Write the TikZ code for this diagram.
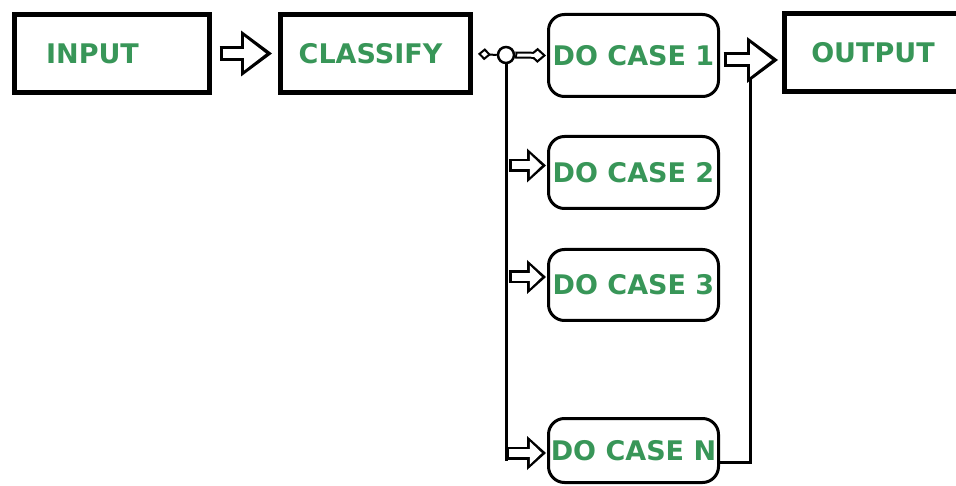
\documentclass[tikz,border=0pt]{standalone}
\usepackage{fontspec}
\newfontfamily\labelfont{DejaVu Sans}
\usepackage{tikz}
\usetikzlibrary{arrows.meta, positioning}
\definecolor{caseGreen}{RGB}{56,150,88}

\tikzset{
  boxtext/.style={font=\labelfont\bfseries\fontsize{27}{30}\selectfont, text=caseGreen},
  stepbox/.style={boxtext, draw=black, line width=5pt, fill=white, inner sep=0pt, minimum height=78pt},
  casebox/.style={boxtext, draw=black, line width=3pt, fill=white, rounded corners=16pt, inner sep=0pt, minimum width=170pt},
  wire/.style={draw=black, line width=3pt},
  % hollow block arrows: black outline, white inside
  bigarrow/.style 2 args={line width=15pt, shorten <=#1, shorten >=#2,
    -{Triangle[length=31pt, width=46pt, line width=0pt]},
    postaction={draw=white, line width=9pt, shorten <=#1+3pt, shorten >=#2+6pt,
      -{Triangle[length=22pt, width=34pt, line width=0pt]}}},
  midarrow/.style 2 args={line width=13pt, shorten <=#1, shorten >=#2,
    -{Triangle[length=19pt, width=34pt, line width=0pt]},
    postaction={draw=white, line width=8pt, shorten <=#1+2.5pt, shorten >=#2+4.2pt,
      -{Triangle[length=12pt, width=23pt, line width=0pt]}}},
  tinyarrow/.style={line width=7pt, shorten >=1pt,
    -{Diamond[length=17pt, width=15pt, line width=0pt]},
    postaction={draw=white, line width=3pt, shorten <=2pt, shorten >=4.3pt,
      -{Diamond[length=10.4pt, width=9pt, line width=0pt]}}},
  tinylink/.style={line width=2pt, shorten <=5pt, {Diamond[open, length=13pt, width=12pt]}-},
}

\begin{document}
\begin{tikzpicture}[x=1pt, y=-1pt]
\useasboundingbox (0,0) rectangle (956,486);
\clip (0,0) rectangle (956,486);

% Kästen oben
\node[stepbox, minimum width=195pt] (input) at (111.5,53.5) {INPUT\hspace*{38pt}};
\node[stepbox, minimum width=190pt] (classify) at (375.5,53.5) {CLASSIFY\hspace*{10pt}};
\node[stepbox, minimum width=177pt] (output) at (873,53) {OUTPUT};

% Fälle
\foreach \n/\y/\h in {1/55.5/82, 2/172.5/72, 3/285/71, N/450.5/64} {
  \node[casebox, minimum height=\h pt] (case\n) at (633.5,\y) {DO CASE \n};
}

% Verteiler
\node[circle, draw=black, line width=2.5pt, fill=white, inner sep=0pt, minimum size=16pt] (hub) at (506,55) {};
\coordinate (busend) at (506,461);
\coordinate (join) at (750,66);

\draw[bigarrow={8pt}{6pt}] (input) -- (classify);
\draw[tinylink] (classify.east) -- (hub.west);
\draw[tinyarrow] (hub.east) -- (case1.west);

% linke Sammelleitung
\draw[wire] (hub.south) -- (busend);
\foreach \n/\s in {2/7, 3/8} {
  \coordinate (in\n) at ([yshift=\s pt]case\n.west);
  \draw[midarrow={3pt}{1pt}] (hub.south |- in\n) -- (in\n);
}
\coordinate (inN) at ([yshift=-2.5pt]caseN.west);
\draw[midarrow={0pt}{1pt}] (busend |- inN) -- (inN);

% rechte Sammelleitung
\draw[wire] ([yshift=-12pt]caseN.east) -| (join);
\coordinate (out1) at ([yshift=-4.5pt]case1.east);
\draw[bigarrow={3.5pt}{4pt}] (out1) -- (out1 -| output.west);
\end{tikzpicture}
\end{document}
